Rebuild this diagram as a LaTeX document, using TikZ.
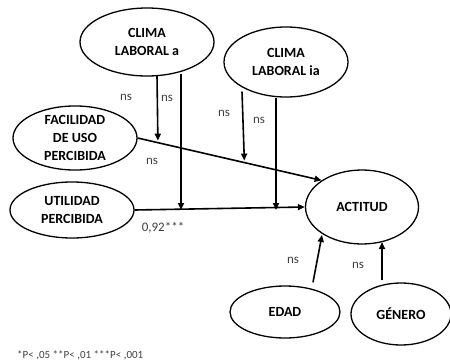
\documentclass[tikz,border=0pt]{standalone}
\usepackage{fontspec}
\setmainfont{Carlito}
\usetikzlibrary{shapes.geometric,arrows.meta}
\begin{document}
\begin{tikzpicture}[x=1pt,y=-1pt,
  var/.style={draw,ellipse,line width=1.3pt,inner sep=0pt,font=\bfseries\fontsize{14}{18}\selectfont,align=center},
  conn/.style={line width=1.6pt,-{Triangle[length=7pt,width=6pt]}},
  lbl/.style={font=\fontsize{13}{15}\selectfont,text=black!75}]
\useasboundingbox (0,0) rectangle (450,362);
\node[var,minimum width=134pt,minimum height=68pt] (ca) at (147,42) {CLIMA\\LABORAL a};
\node[var,minimum width=124pt,minimum height=70pt] (cia) at (286,62) {CLIMA\\LABORAL ia};
\node[var,minimum width=124pt,minimum height=54pt] (fac) at (75,138) {FACILIDAD\\DE USO\\PERCIBIDA};
\node[var,minimum width=124pt,minimum height=56pt] (uti) at (72,210) {UTILIDAD\\PERCIBIDA};
\node[var,minimum width=113pt,minimum height=74pt] (act) at (362,207) {ACTITUD};
\node[var,minimum width=110pt,minimum height=52pt] (edad) at (285,312) {EDAD};
\node[var,minimum width=100pt,minimum height=62pt] (gen) at (401,314) {GÉNERO};
% main paths
\draw[conn] (fac.east) -- (act.north west);
\draw[conn] (uti.east) -- (act.west);
% moderation coordinates
\path (fac.east) -- (act.north west) coordinate[pos=0.11] (m1) coordinate[pos=0.58] (m2);
\coordinate (ca1) at (157,0);
\coordinate (ca2) at (181,0);
\coordinate (ci1) at (242,0);
\coordinate (ci2) at (276,0);
\draw[conn] (ca.south -| ca1) ++(0,-1) -- ([yshift=2pt]m1);
\draw[conn] (ca.south -| ca2) ++(0,-3) -- (ca2 |- uti.east);
\draw[conn] (cia.south -| ci1) ++(0,-6) -- ([yshift=2pt]m2);
\draw[conn] (cia.south -| ci2) -- (ci2 |- uti.east);
\draw[conn] (edad.north) ++(28,-3) -- (322,235);
\draw[conn] (gen.north) ++(-19,-2) -- (382,242);
% labels
\node[lbl] (l1) at (126,97) {ns};
\node[lbl] (l2) at (167,98) {ns};
\node[lbl] (l3) at (152,161) {ns};
\node[lbl] (l4) at (224,113) {ns};
\node[lbl] (l5) at (259,120) {ns};
\node[lbl] (l6) at (163,228) {0,92***};
\node[lbl] (l7) at (293,260) {ns};
\node[lbl] (l8) at (358,265) {ns};
\node[font=\fontsize{11}{13}\selectfont,text=black!75,anchor=west,inner sep=0pt] (foot) at (17,355) {*P< ,05 **P< ,01 ***P< ,001};
\end{tikzpicture}
\end{document}
